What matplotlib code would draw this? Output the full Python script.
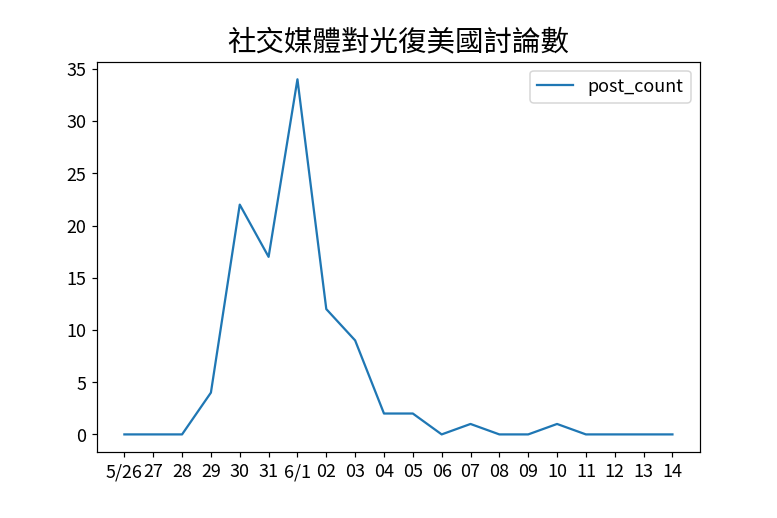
import matplotlib
matplotlib.use("Agg")
import matplotlib.pyplot as plt

plt.rcParams['font.family'] = ['Noto Sans CJK TC', 'DejaVu Sans']

dates = ["5/26", "27", "28", "29", "30", "31", "6/1", "02", "03", "04",
         "05", "06", "07", "08", "09", "10", "11", "12", "13", "14"]
post_count = [0, 0, 0, 4, 22, 17, 34, 12, 9, 2, 2, 0, 1, 0, 0, 1, 0, 0, 0, 0]

fig, ax = plt.subplots(figsize=(7.2, 4.8), dpi=108)
fig.subplots_adjust(left=0.1247, right=0.9, top=0.8805, bottom=0.127)
ax.plot(range(len(dates)), post_count, label="post_count", color="#1f77b4")
ax.set_xticks(range(len(dates)))
ax.set_xticklabels(dates)
ax.tick_params(labelsize=12)
ax.set_title("社交媒體對光復美國討論數", fontsize=19, fontweight="light", pad=8)
ax.legend(loc="upper right", fontsize=12)
fig.savefig("out.png", dpi=108)
